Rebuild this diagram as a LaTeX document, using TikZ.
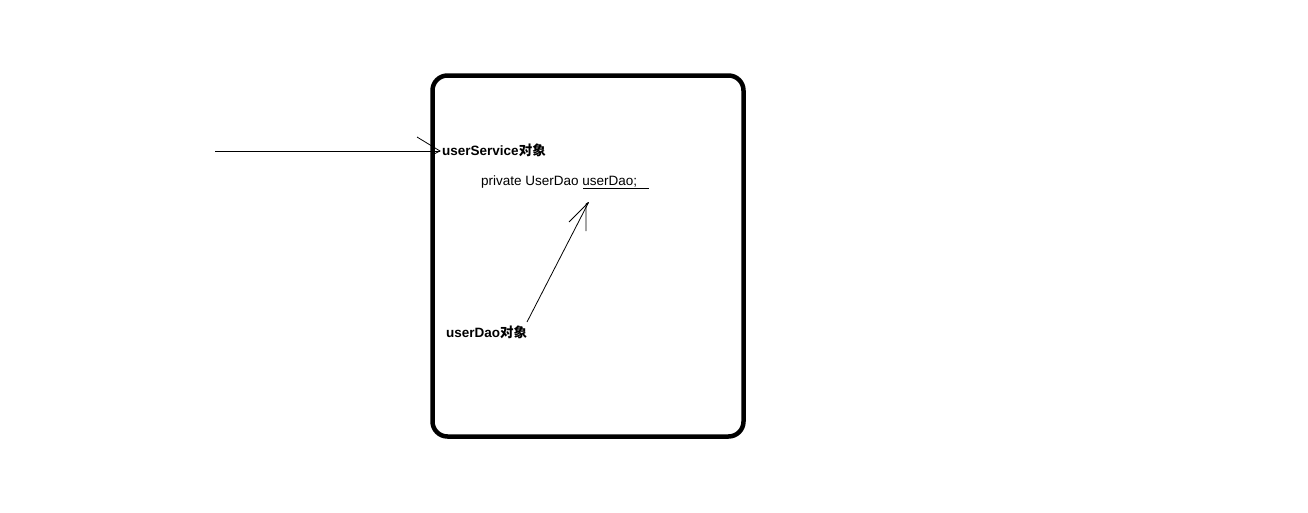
\documentclass[tikz,border=0pt]{standalone}
\usepackage{fontspec}
\setmainfont{Liberation Sans}
\newfontfamily\cjk{Noto Sans CJK SC}
\begin{document}
\begin{tikzpicture}[x=1pt,y=-1pt,
  thin line/.style={line width=0.8pt,black},
  boldlabel/.style={font=\fontsize{13.5}{16}\selectfont\bfseries,inner sep=0pt,anchor=base west},
  codelabel/.style={font=\fontsize{13.5}{16}\selectfont,inner sep=0pt,anchor=base west}]
\useasboundingbox (0,0) rectangle (1308,512);
% object box
\draw[line width=4.5pt,rounded corners=15pt] (432.5,75.5) rectangle (743.5,436.5);
% labels
\node[boldlabel] (svc) at (442,155.5) {userService{\cjk\bfseries 对象}};
\node[codelabel] (code) at (481,185) {private UserDao userDao;};
\node[boldlabel] (dao) at (446,337) {userDao{\cjk\bfseries 对象}};
% underline under userDao;
\coordinate (ulA) at (583,188);
\coordinate (ulB) at (649,188);
\draw[thin line] (ulA) -- (ulB);
% incoming arrow to userService object
\coordinate (inStart) at (215,151);
\coordinate (inTip) at (440,151);
\coordinate (inBarbA) at (417,137);
\coordinate (inBarbB) at (434,154);
\draw[thin line] (inStart) -- (inTip);
\draw[thin line] (inBarbA) -- (inTip) -- (inBarbB);
% arrow from userDao object to field
\coordinate (daoStart) at (527,322);
\coordinate (daoTip) at (588.5,202.5);
\coordinate (daoBarbA) at (586,231);
\coordinate (daoBarbB) at (569,222);
\draw[thin line] (daoStart) -- (daoTip);
\draw[thin line] (daoBarbA) -- (586,204) -- (daoTip);
\draw[thin line] (daoBarbB) -- (daoTip);
\end{tikzpicture}
\end{document}
